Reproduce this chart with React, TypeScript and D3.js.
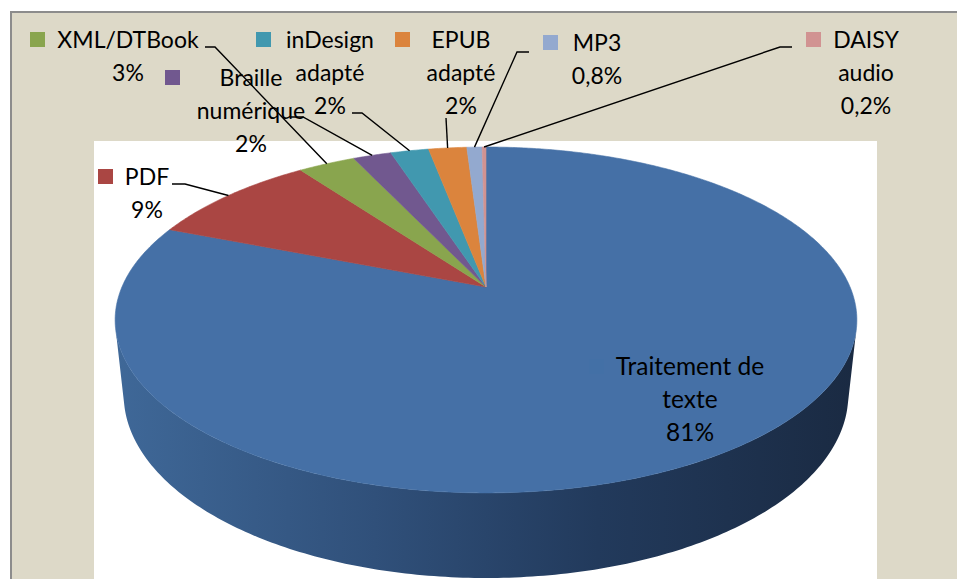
import React from "react";
import * as d3 from "d3";

const categories = [
  "Traitement de texte",
  "PDF",
  "XML/DTBook",
  "Braille numérique",
  "inDesign adapté",
  "EPUB adapté",
  "MP3",
  "DAISY audio",
];
const values = [81, 9, 3, 2, 2, 2, 0.8, 0.2];
const percentLabels = ["81%", "9%", "3%", "2%", "2%", "2%", "0,8%", "0,2%"];
const nameLines = [
  ["Traitement de", "texte"],
  ["PDF"],
  ["XML/DTBook"],
  ["Braille", "numérique"],
  ["inDesign", "adapté"],
  ["EPUB", "adapté"],
  ["MP3"],
  ["DAISY", "audio"],
];
const colors = ["#4570A6", "#AA4643", "#89A54E", "#71588F", "#4198AF", "#DB843D", "#93A9CF", "#D19392"];

// label layout: text center x, first baseline, key x, key top, font size, leader path points (label side first)
const labelLayout = [
  { cx: 690, by: 375, kx: 589, ky: 359, fs: 24.5, keyFill: "#4370A6", leader: [] as number[][] },
  { cx: 147, by: 185, kx: 98, ky: 169, fs: 23, leader: [[172, 184], [185, 184]] },
  { cx: 128, by: 48, kx: 30, ky: 32, fs: 23, leader: [[205, 47], [215, 47]] },
  { cx: 251, by: 86, kx: 165, ky: 70, fs: 23, leader: [[290, 117], [303, 117]] },
  { cx: 330, by: 48, kx: 256, ky: 32, fs: 23, leader: [[352, 113], [362, 113]] },
  { cx: 461, by: 48, kx: 395, ky: 32, fs: 23, leader: [[446, 118]] },
  { cx: 597, by: 51, kx: 543, ky: 35, fs: 23, leader: [[529, 52], [517, 52]] },
  { cx: 866, by: 48, kx: 806, ky: 32, fs: 23, leader: [[792, 47], [780, 47]] },
];

const W = 957;
const H = 579;

// perspective camera for the 3D pie
const PC = { cx: 486, cy: 287, f: 1698, D: 4.664, sinPhi: 0.4578, h: 0.2334 };
const cosPhi = Math.sqrt(1 - PC.sinPhi * PC.sinPhi);

function proj(X: number, Y: number, Z: number): [number, number] {
  const depth = Y * cosPhi + PC.D - Z * PC.sinPhi;
  return [PC.cx + (PC.f * X) / depth, PC.cy - (PC.f * (Y * PC.sinPhi + Z * cosPhi)) / depth];
}
function rim(theta: number, Z = 0): [number, number] {
  return proj(Math.sin(theta), Math.cos(theta), Z);
}

export default function App() {
  const pie = d3.pie<number>().sort(null).startAngle(0).endAngle(2 * Math.PI);
  const arcs = pie(values);
  const line = d3.line();

  const slicePaths = arcs.map((a) => {
    const pts: [number, number][] = [proj(0, 0, 0)];
    const n = Math.max(4, Math.ceil(((a.endAngle - a.startAngle) * 180) / Math.PI / 0.5));
    for (let i = 0; i <= n; i++) {
      const t = a.startAngle + ((a.endAngle - a.startAngle) * i) / n;
      pts.push(rim(t));
    }
    return line(pts) + "Z";
  });

  // side silhouette
  const t1 = Math.acos(-1 / (PC.D * cosPhi));
  const t2 = 2 * Math.PI - t1;
  const sidePts: [number, number][] = [];
  const ns = 200;
  for (let i = 0; i <= ns; i++) sidePts.push(rim(t1 + ((t2 - t1) * i) / ns, 0));
  for (let i = ns; i >= 0; i--) sidePts.push(rim(t1 + ((t2 - t1) * i) / ns, -PC.h));
  const sidePath = line(sidePts) + "Z";

  const lh = 33;
  const font = "Lato, 'Open Sans', sans-serif";

  return (
    <svg
      width={W}
      height={H}
      style={{ position: "absolute", left: 0, top: 0, background: "#ffffff" }}
      fontFamily={font}
    >
      <defs>
        <linearGradient id="sideGrad" gradientUnits="userSpaceOnUse" x1={115} y1={0} x2={857} y2={0}>
          <stop offset="0%" stopColor="#3F6898" />
          <stop offset="35%" stopColor="#30507A" />
          <stop offset="65%" stopColor="#223A5C" />
          <stop offset="100%" stopColor="#1A2A42" />
        </linearGradient>
      </defs>
      <rect x={0} y={0} width={W} height={H} fill="#ffffff" />
      <rect x={11} y={12} width={W + 20} height={H + 20} fill="#DDD9C8" stroke="#8C8C8C" strokeWidth={2} />
      <rect x={94} y={141} width={783} height={H} fill="#ffffff" />

      <path d={sidePath} fill="url(#sideGrad)" />
      {slicePaths.map((d, i) => (
        <path key={categories[i]} d={d} fill={colors[i]} stroke={colors[i]} strokeWidth={0.6} />
      ))}

      {arcs.map((a, i) => {
        const L = labelLayout[i];
        if (!L.leader.length) return null;
        const mid = (a.startAngle + a.endAngle) / 2;
        const p = rim(mid);
        const pts = [...L.leader, p] as [number, number][];
        return <path key={"l" + i} d={line(pts) as string} fill="none" stroke="#000" strokeWidth={1.4} />;
      })}

      {labelLayout.map((L, i) => {
        const lines = [...nameLines[i], percentLabels[i]];
        return (
          <g key={"t" + i}>
            <rect x={L.kx} y={L.ky} width={15} height={15} fill={(L as any).keyFill || colors[i]} />
            {lines.map((s, j) => (
              <text key={j} x={L.cx} y={L.by + j * lh} textAnchor="middle" fontSize={L.fs} fill="#000">
                {s}
              </text>
            ))}
          </g>
        );
      })}
    </svg>
  );
}
